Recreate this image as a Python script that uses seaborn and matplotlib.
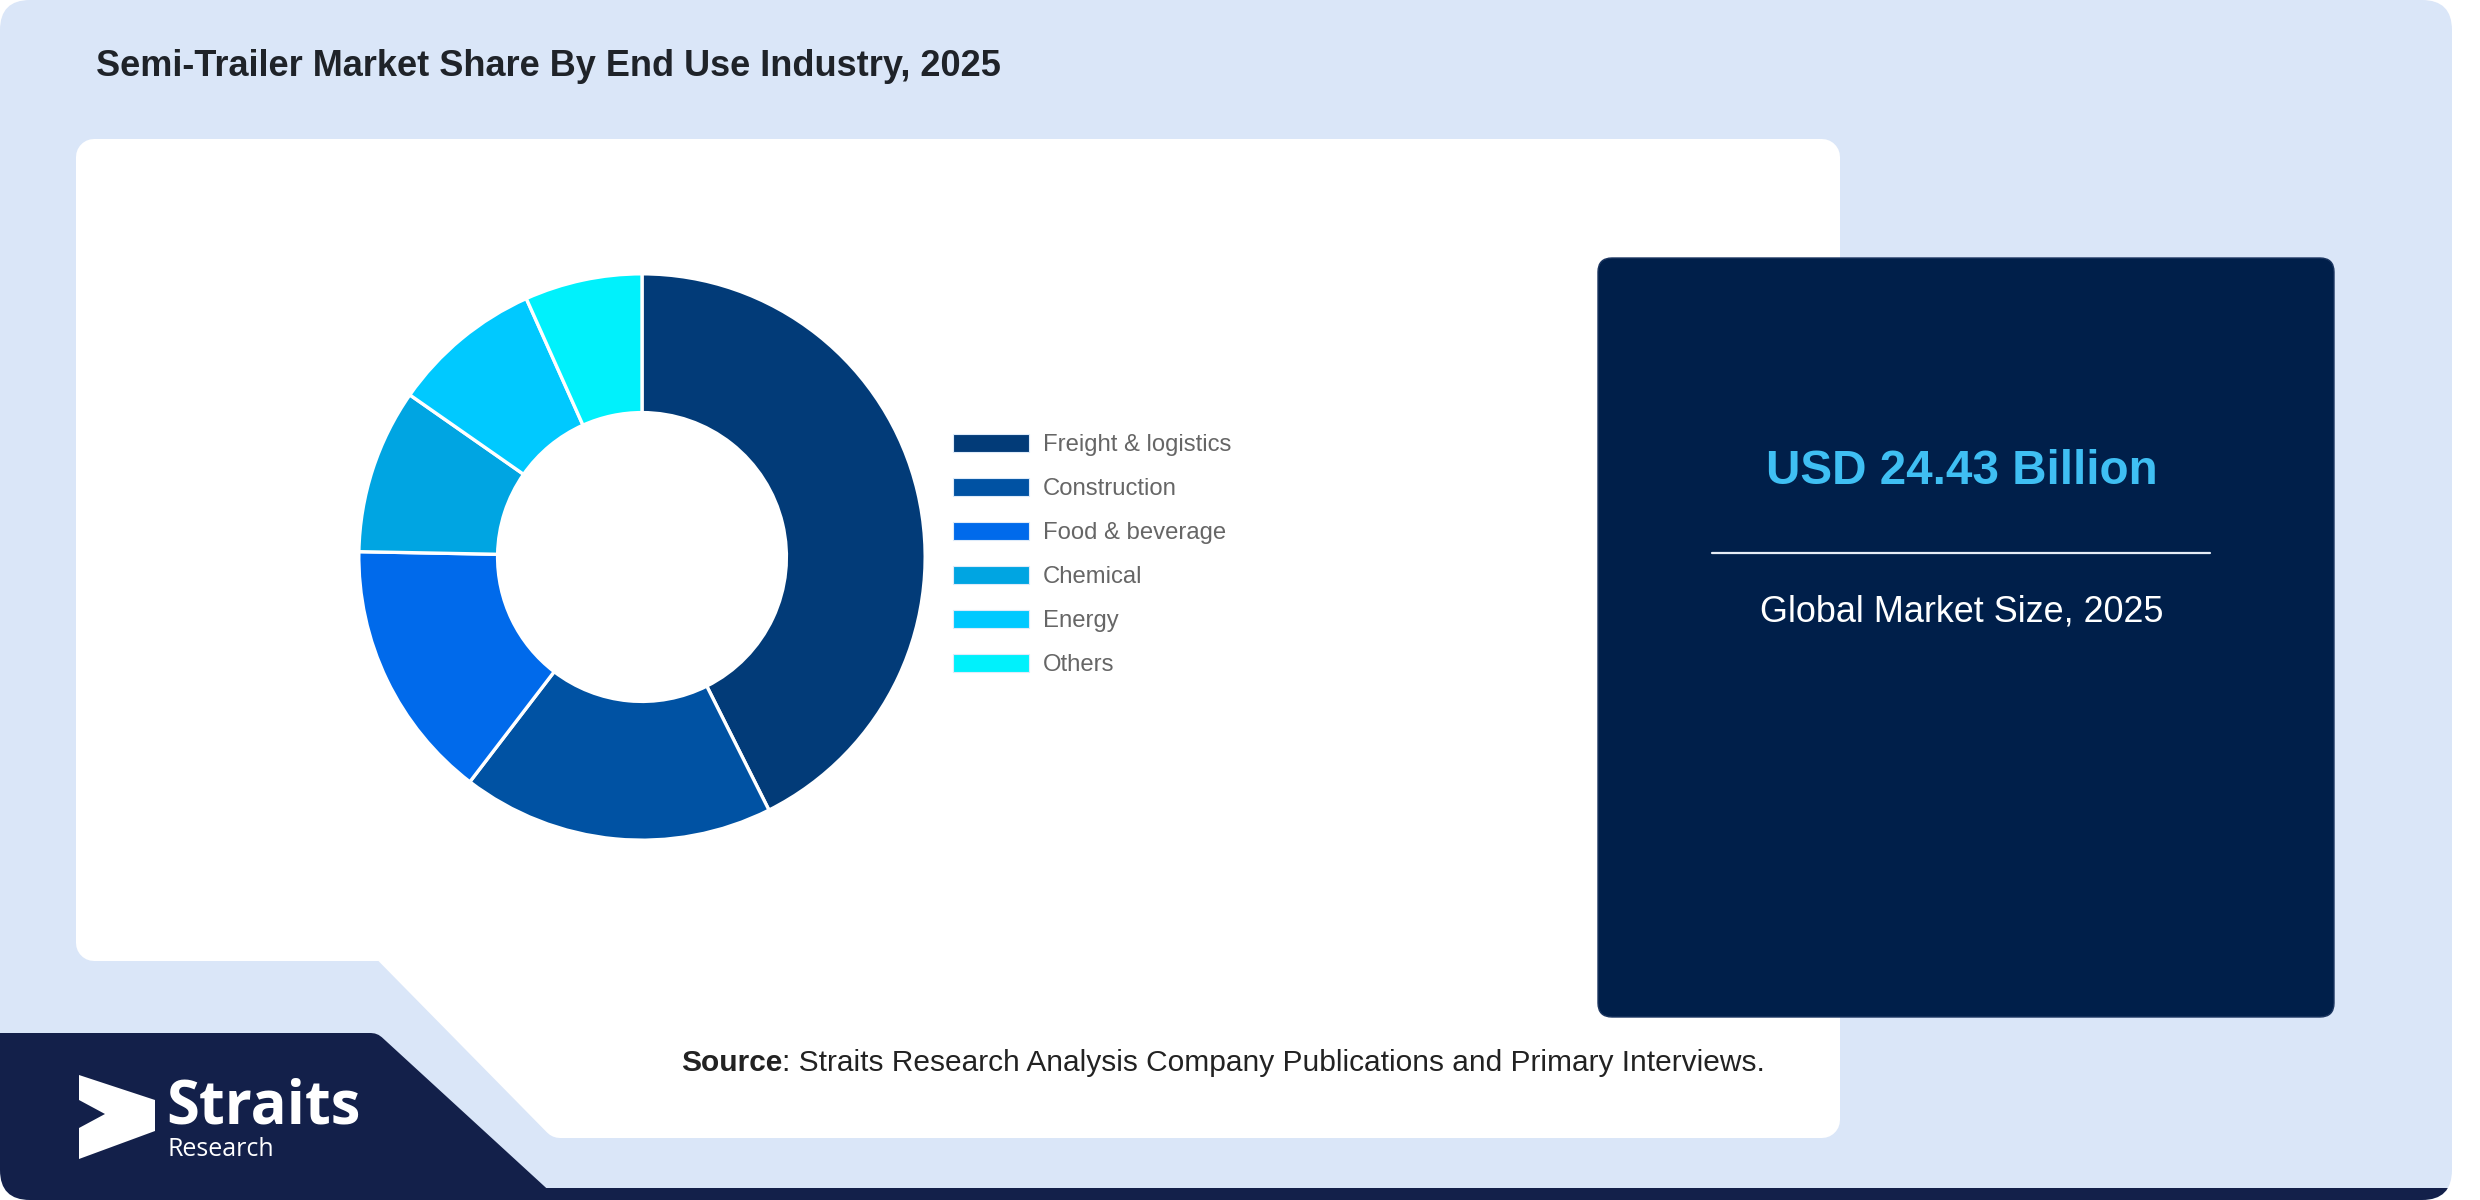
import numpy as np
import matplotlib
matplotlib.use("Agg")
import matplotlib.pyplot as plt
from matplotlib.patches import FancyBboxPatch, Polygon
import seaborn as sns

segments = ["Freight & logistics", "Construction", "Food & beverage", "Chemical", "Energy", "Others"]
shares = [42.6, 17.8, 14.9, 9.4, 8.6, 6.7]
seg_colors = ["#023B78", "#0052A3", "#006AEB", "#00A5E2", "#00C9FF", "#00F1FC"]

title = "Semi-Trailer Market Share By End Use Industry, 2025"
market_value = "USD 24.43 Billion"
market_label = "Global Market Size, 2025"
source_head = "Source"
source_rest = ": Straits Research Analysis Company Publications and Primary Interviews."

sns.set_theme(style="white")
plt.rcParams["font.family"] = ["Liberation Sans", "DejaVu Sans"]

W, H = 2480, 1200
fig = plt.figure(figsize=(W / 100, H / 100), dpi=100, facecolor="white")

bg = fig.add_axes([0, 0, 1, 1], zorder=0)
bg.set_xlim(0, W)
bg.set_ylim(H, 0)
bg.axis("off")


def rounded_poly(verts, r, color, **kw):
    # polygon shrunk by r, then a thick round-joined edge gives rounded corners
    return Polygon(verts, closed=True, fc=color, ec=color, lw=2 * r * 0.72,
                   joinstyle="round", **kw)


card = FancyBboxPatch((0, 0), 2452, 1200, boxstyle="round,pad=0,rounding_size=30",
                      fc="#DAE6F8", ec="none")
bg.add_patch(card)

navy = rounded_poly([(-40, 1049), (371, 1049), (540, 1204), (2500, 1204), (2500, 1260), (-40, 1260)],
                    16, "#13204A")
bg.add_patch(navy)
navy.set_clip_path(card)

white = rounded_poly([(94, 157), (1822, 157), (1822, 1120), (560, 1120), (386, 943), (94, 943)],
                     18, "white")
bg.add_patch(white)

box = FancyBboxPatch((1598, 258), 736, 759, boxstyle="round,pad=0,rounding_size=14",
                     fc="#001F4A", ec="#1B3560", lw=1)
bg.add_patch(box)

bg.text(96, 66, title, fontsize=26, fontweight="bold", color="#1F2329", va="center", ha="left")

bg.text(1962, 472, market_value, fontsize=34.3, fontweight="bold", color="#3FBFF3",
        ha="center", va="center")
bg.plot([1712, 2210], [553, 553], color="#E6ECF5", lw=1.6)
bg.text(1962, 612, market_label, fontsize=25.9, color="white", ha="center", va="center")

# source line: bold head followed by regular text
t1 = bg.text(681, 1063, source_head, fontsize=21.5, fontweight="bold", color="#222222",
             ha="left", va="center")
fig.canvas.draw()
ext = t1.get_window_extent(renderer=fig.canvas.get_renderer())
bg.text(681 + ext.width, 1063, source_rest, fontsize=21.5, color="#222222", ha="left", va="center")

# logo
chevron = Polygon([(79, 1075), (155, 1100), (155, 1131), (79, 1159), (79, 1128), (105, 1114), (79, 1100)],
                  closed=True, fc="white", ec="none")
bg.add_patch(chevron)
bg.text(166, 1123, "Straits", fontsize=43, fontweight="bold", color="white",
        family=["Open Sans", "DejaVu Sans"], ha="left", va="baseline")
bg.text(168, 1156, "Research", fontsize=18, color="white",
        family=["Open Sans", "DejaVu Sans"], ha="left", va="baseline")

# donut
cx, cy, R = 642, 557, 286
ax = fig.add_axes([(cx - R) / W, 1 - (cy + R) / H, 2 * R / W, 2 * R / H], zorder=2)
palette = sns.color_palette(seg_colors)
wedges, _ = ax.pie(shares, colors=palette, startangle=90, counterclock=False, radius=1,
                   wedgeprops=dict(width=0.49, edgecolor="white", linewidth=2.4))
ax.set_xlim(-1.01, 1.01)
ax.set_ylim(-1.01, 1.01)
ax.set_aspect("equal")
ax.axis("off")

fs = 17.2
leg = ax.legend(wedges, segments, loc="upper left",
                bbox_to_anchor=(953 / W, 1 - 434 / H), bbox_transform=fig.transFigure,
                frameon=False, borderpad=0, borderaxespad=0, fontsize=fs,
                handlelength=3.2, handleheight=0.8, handletextpad=0.57, labelspacing=0.9)
for txt in leg.get_texts():
    txt.set_color("#666666")
for h in leg.legend_handles:
    h.set_linewidth(0.8)
    h.set_edgecolor("#DDEBFA")

fig.savefig("out.png", dpi=100, facecolor="white")
